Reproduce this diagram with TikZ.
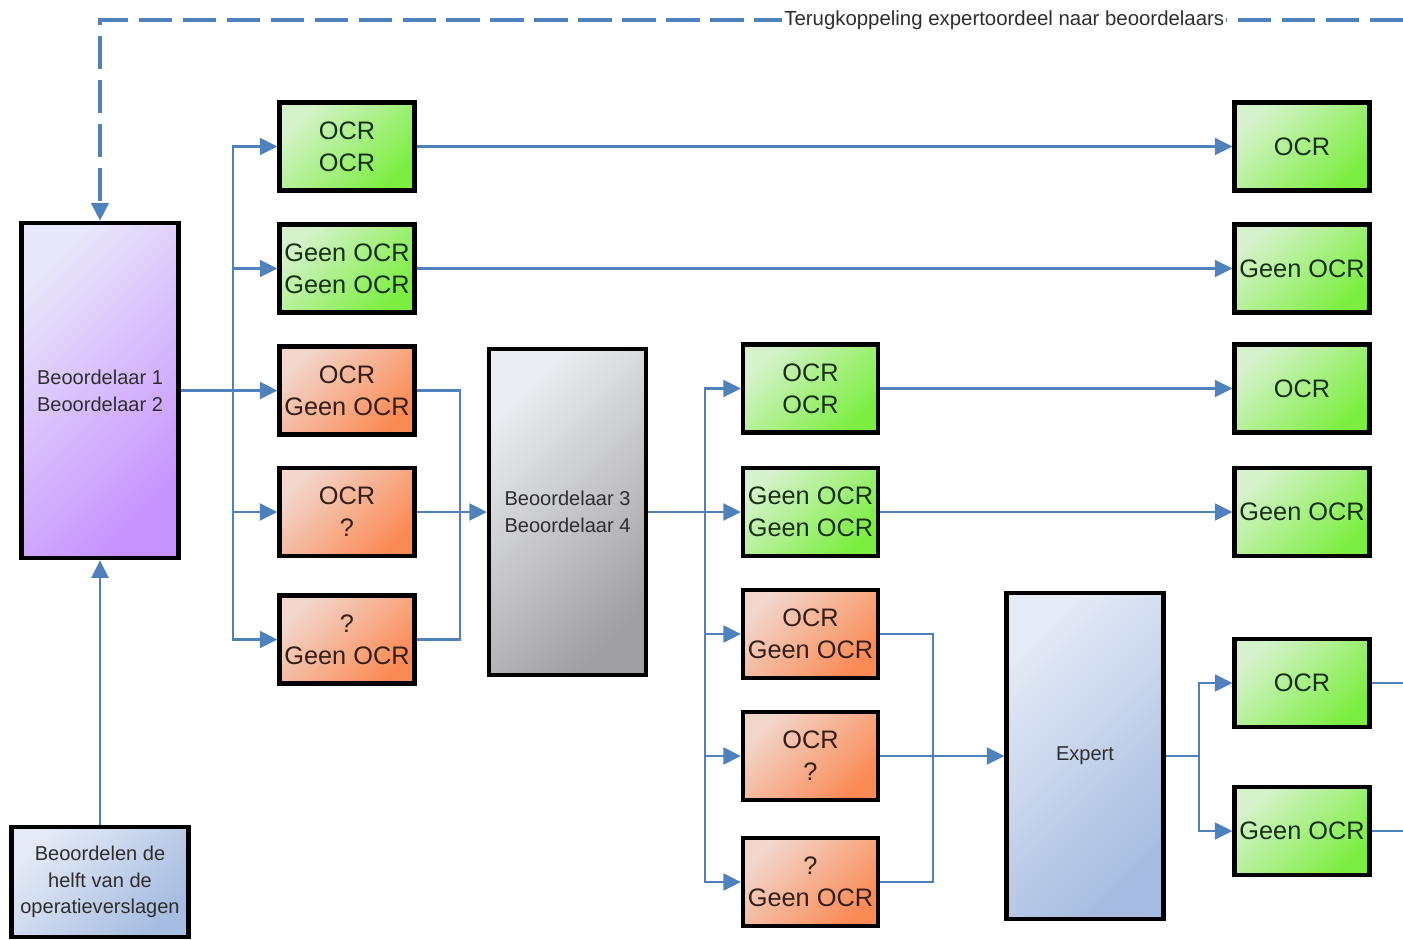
\documentclass[tikz,border=0pt]{standalone}
\usepackage{fontspec}
\setmainfont{Liberation Sans}
\usepackage{tikz}
\usetikzlibrary{arrows.meta,positioning}
\definecolor{greenLight}{RGB}{214,242,204}
\definecolor{greenFill}{RGB}{124,238,64}
\definecolor{greenText}{RGB}{22,48,20}
\definecolor{orangeLight}{RGB}{242,214,204}
\definecolor{orangeFill}{RGB}{250,138,84}
\definecolor{orangeText}{RGB}{52,30,22}
\definecolor{purpleLight}{RGB}{232,230,250}
\definecolor{purpleFill}{RGB}{198,146,255}
\definecolor{grayLight}{RGB}{236,237,242}
\definecolor{grayFill}{RGB}{160,160,162}
\definecolor{blueLight}{RGB}{228,234,246}
\definecolor{blueFill}{RGB}{166,188,224}
\definecolor{lineBlue}{RGB}{79,129,189}
\colorlet{ink}{black!82}
\tikzset{
  arrow/.style={-{Triangle[length=5pt,width=4.8pt]}, draw=lineBlue, line width=0.7pt},
  link/.style={draw=lineBlue, line width=0.7pt},
  feedback/.style={-{Triangle[length=5pt,width=4.8pt]}, draw=lineBlue, line width=1pt,
    dash pattern=on 9.5pt off 3pt},
  box/.style={
    rectangle,
    draw=black,
    line width=1.2pt,
    inner sep=1pt,
    align=center
  },
  greenbox/.style={box, top color=greenLight, bottom color=greenFill, shading angle=45,
    minimum width=1.35cm, minimum height=0.88cm, text=greenText,
    font=\fontsize{7.2}{9.1}\selectfont},
  orangebox/.style={box, top color=orangeLight, bottom color=orangeFill, shading angle=45,
    minimum width=1.35cm, minimum height=0.88cm, text=orangeText,
    font=\fontsize{7.2}{9.1}\selectfont},
  tallbox/.style={box, minimum width=1.57cm, minimum height=3.26cm, text=ink,
    font=\fontsize{5.7}{7.6}\selectfont},
  purplebox/.style={tallbox, top color=purpleLight, bottom color=purpleFill, shading angle=45},
  graybox/.style={tallbox, top color=grayLight, bottom color=grayFill, shading angle=45},
  bluebox/.style={tallbox, top color=blueLight, bottom color=blueFill, shading angle=45},
  note/.style={font=\fontsize{5.8}{7}\selectfont, text=ink, fill=white, inner sep=0.6pt}
}

\begin{document}
\begin{tikzpicture}[x=0.01cm,y=-0.01cm]
  \useasboundingbox (0,0) rectangle (1403,939);

  % first two assessors
  \node[purplebox, minimum height=3.35cm] (b12) at (100,390.5) {Beoordelaar 1\\Beoordelaar 2};
  \node[bluebox, minimum width=1.77cm, minimum height=1.1cm] (half) at (100,882) {Beoordelen de\\helft van de\\operatieverslagen};

  \node[greenbox] (a1) at (347,146.5) {OCR\\OCR};
  \node[greenbox] (a2) at (347,268.5) {Geen OCR\\Geen OCR};
  \node[orangebox] (a3) at (347,390.5) {OCR\\Geen OCR};
  \node[orangebox] (a4) at (347,512) {OCR\\?};
  \node[orangebox] (a5) at (347,639.5) {?\\Geen OCR};

  % second two assessors
  \node[graybox] (b34) at (567.5,512) {Beoordelaar 3\\Beoordelaar 4};

  \node[greenbox] (c1) at (810.5,388.5) {OCR\\OCR};
  \node[greenbox] (c2) at (810.5,512) {Geen OCR\\Geen OCR};
  \node[orangebox] (c3) at (810.5,634) {OCR\\Geen OCR};
  \node[orangebox] (c4) at (810.5,756) {OCR\\?};
  \node[orangebox] (c5) at (810.5,882) {?\\Geen OCR};

  % expert
  \node[bluebox] (expert) at (1085,756) {Expert};

  \node[greenbox] (r1) at (1302,146.5) {OCR};
  \node[greenbox] (r2) at (1302,268.5) {Geen OCR};
  \node[greenbox] (r3) at (1302,388.5) {OCR};
  \node[greenbox] (r4) at (1302,512) {Geen OCR};
  \node[greenbox] (r5) at (1302,683) {OCR};
  \node[greenbox] (r6) at (1302,831) {Geen OCR};

  \coordinate (split1) at (233,390.5);
  \coordinate (merge1) at (460,512);
  \coordinate (split2) at (705,512);
  \coordinate (merge2) at (933,756);
  \coordinate (split3) at (1199,756);
  \coordinate (out5) at (1403,683);
  \coordinate (out6) at (1403,831);
  \coordinate (fbstart) at (1403,20);

  \draw[arrow] (half.north) -- (b12.south);
  \foreach \n in {a1,a2,a3,a4,a5}
    \draw[arrow] (b12.east) -- (split1) |- (\n.west);
  \draw[arrow] (a1.east) -- (r1.west);
  \draw[arrow] (a2.east) -- (r2.west);
  \draw[link] (a3.east) -| (merge1);
  \draw[link] (a5.east) -| (merge1);
  \draw[arrow] (a4.east) -- (b34.west);

  \foreach \n in {c1,c2,c3,c4,c5}
    \draw[arrow] (b34.east) -- (split2) |- (\n.west);
  \draw[arrow] (c1.east) -- (r3.west);
  \draw[arrow] (c2.east) -- (r4.west);
  \draw[link] (c3.east) -| (merge2);
  \draw[link] (c5.east) -| (merge2);
  \draw[arrow] (c4.east) -- (expert.west);

  \foreach \n in {r5,r6}
    \draw[arrow] (expert.east) -- (split3) |- (\n.west);
  \draw[link] (r5.east) -- (out5);
  \draw[link] (r6.east) -- (out6);

  % feedback loop
  \draw[feedback] (fbstart) -| node[note, pos=0.153] (fblabel) {Terugkoppeling expertoordeel naar beoordelaars} (b12.north);
\end{tikzpicture}
\end{document}
